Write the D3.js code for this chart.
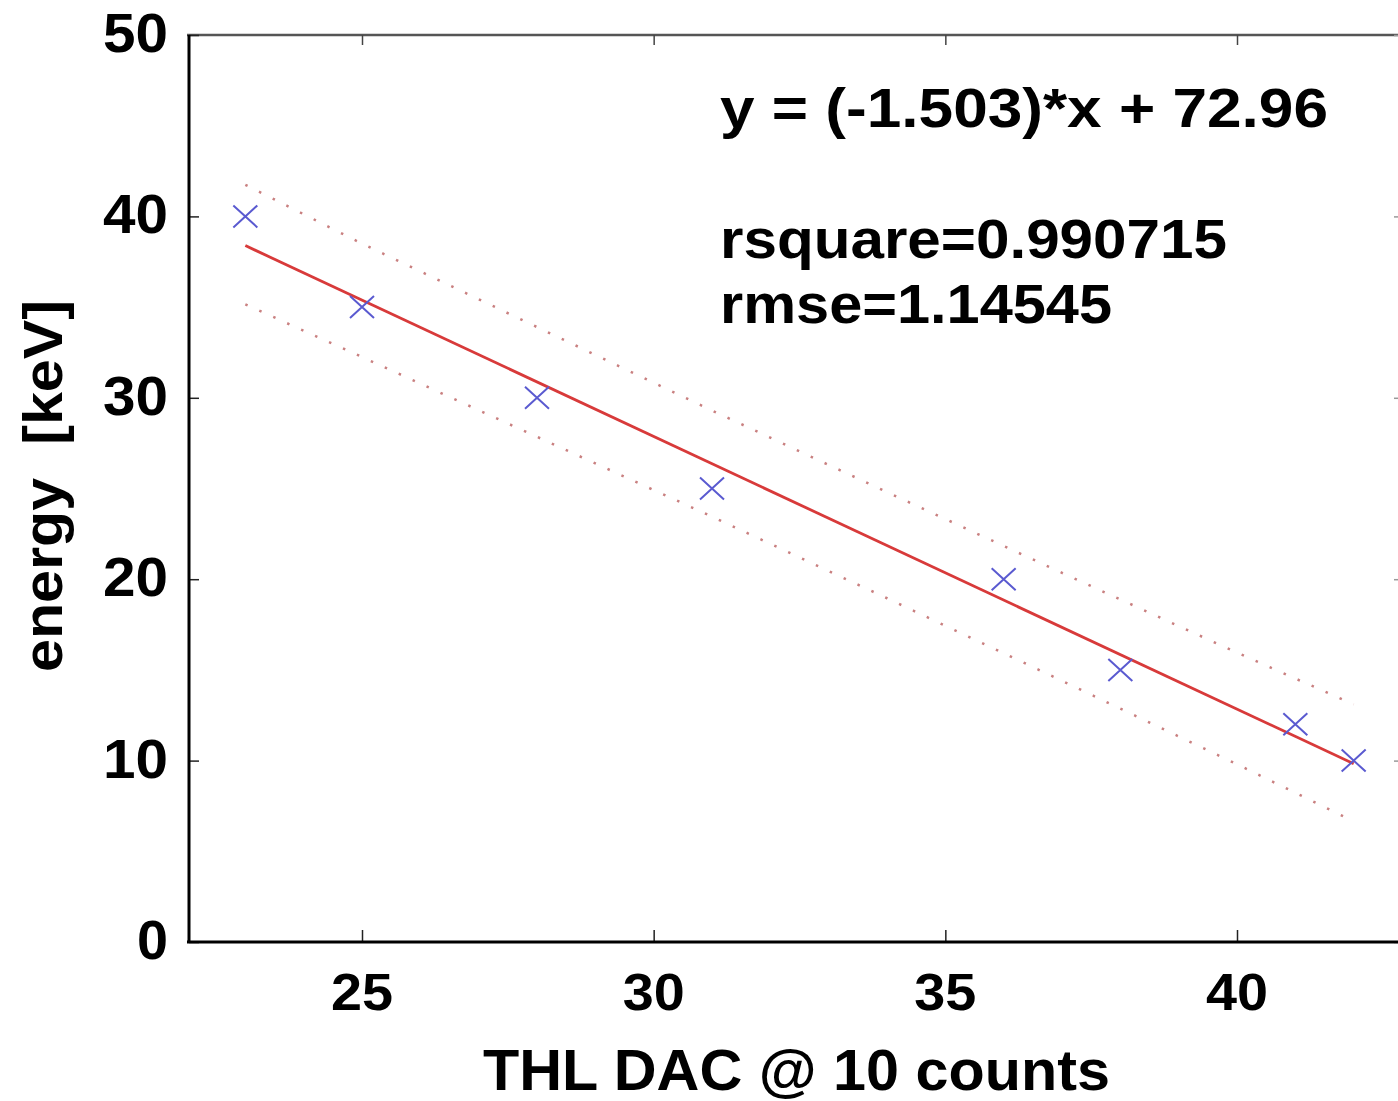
<html>
  <meta charset="utf-8" />
  <script src="https://d3js.org/d3.v7.min.js"></script>
  <style>
    body { margin: 0; background: #fff; }
    text { font-family: "Liberation Sans", Arial, sans-serif; font-weight: bold; fill: #000; white-space: pre; }
  </style>
  <body>
    <div id="chart"></div>

    <script>
      // measured points
      const thl = [23, 25, 28, 31, 36, 38, 41, 42];
      const energy = [40, 35, 30, 25, 20, 15, 12, 10];

      // fitted line y = -1.503*x + 72.96, end points
      const fitX = [23, 42];
      const fitY = [38.39, 9.83];

      // prediction bounds
      const boundX = [23, 25, 28, 31, 34, 37, 40, 42];
      const upperY = [41.74, 38.5, 33.9, 29.3, 24.8, 20.35, 15.95, 13.1];
      const lowerY = [35.15, 32.25, 27.85, 23.45, 18.95, 14.4, 9.8, 6.65];

      const xTicks = [25, 30, 35, 40];
      const yTicks = [0, 10, 20, 30, 40, 50];

      const W = 1398, H = 1101;
      const plotL = 187, plotR = 1412, plotT = 35, plotB = 942;

      const svg = d3.select("#chart").append("svg")
        .attr("width", W)
        .attr("height", H);

      const x = d3.scaleLinear().domain([22, 43]).range([plotL, plotR]);
      const y = d3.scaleLinear().domain([0, 50]).range([plotB, plotT]);

      // frame (top and right are lighter, right one falls off the page)
      svg.append("line").attr("x1", plotL).attr("x2", plotR).attr("y1", plotT).attr("y2", plotT)
        .attr("stroke", "#555").attr("stroke-width", 2.5);
      svg.append("line").attr("x1", plotR).attr("x2", plotR).attr("y1", plotT).attr("y2", plotB)
        .attr("stroke", "#555").attr("stroke-width", 2.5);

      // bottom axis, ticks pointing inward
      svg.append("g")
        .attr("transform", `translate(0,${plotB})`)
        .call(d3.axisTop(x).tickValues(xTicks).tickSize(12).tickFormat(""))
        .call(g => g.select(".domain").remove())
        .call(g => g.selectAll("line").attr("stroke", "#222").attr("stroke-width", 1.5));

      // top axis ticks
      svg.append("g")
        .attr("transform", `translate(0,${plotT})`)
        .call(d3.axisBottom(x).tickValues(xTicks).tickSize(10).tickFormat(""))
        .call(g => g.select(".domain").remove())
        .call(g => g.selectAll("line").attr("stroke", "#444").attr("stroke-width", 1.5));

      // left axis ticks
      svg.append("g")
        .attr("transform", `translate(${plotL + 2},0)`)
        .call(d3.axisRight(y).tickValues(yTicks).tickSize(10).tickFormat(""))
        .call(g => g.select(".domain").remove())
        .call(g => g.selectAll("line").attr("stroke", "#222").attr("stroke-width", 1.5));

      // right axis ticks
      svg.append("g")
        .attr("transform", `translate(${plotR},0)`)
        .call(d3.axisLeft(y).tickValues(yTicks).tickSize(18).tickFormat(""))
        .call(g => g.select(".domain").remove())
        .call(g => g.selectAll("line").attr("stroke", "#999").attr("stroke-width", 1.5));

      svg.append("line").attr("x1", plotL + 2).attr("x2", plotL + 2).attr("y1", plotT).attr("y2", plotB)
        .attr("stroke", "#000").attr("stroke-width", 3);
      svg.append("line").attr("x1", plotL).attr("x2", plotR).attr("y1", plotB).attr("y2", plotB)
        .attr("stroke", "#000").attr("stroke-width", 3);

      // tick labels
      svg.append("g").selectAll("text")
        .data(xTicks)
        .enter()
        .append("text")
        .attr("x", d => x(d))
        .attr("y", 1010)
        .attr("text-anchor", "middle")
        .attr("font-size", 52)
        .attr("textLength", 62)
        .attr("lengthAdjust", "spacingAndGlyphs")
        .text(d => d);

      svg.append("g").selectAll("text")
        .data(yTicks)
        .enter()
        .append("text")
        .attr("x", 168)
        .attr("y", d => y(d) + 17)
        .attr("text-anchor", "end")
        .attr("font-size", 55)
        .attr("textLength", d => (String(d).length == 1 ? 31 : 65))
        .attr("lengthAdjust", "spacingAndGlyphs")
        .text(d => d);

      // prediction bounds
      const line = d3.line().x(d => x(d[0])).y(d => y(d[1]));
      [upperY, lowerY].forEach(arr => {
        svg.append("path")
          .datum(boundX.map((v, i) => [v, arr[i]]))
          .attr("d", line)
          .attr("fill", "none")
          .attr("stroke", "#c98080")
          .attr("stroke-width", 2.5)
          .attr("stroke-dasharray", "2.5,12.8");
      });

      // fit line
      svg.append("path")
        .datum(fitX.map((v, i) => [v, fitY[i]]))
        .attr("d", line)
        .attr("fill", "none")
        .attr("stroke", "#d83a3a")
        .attr("stroke-width", 2.8);

      // data markers
      svg.append("g").selectAll("path")
        .data(thl.map((v, i) => [v, energy[i]]))
        .enter()
        .append("path")
        .attr("transform", d => `translate(${x(d[0])},${y(d[1])})`)
        .attr("d", "M-12,-11L12,11M-12,11L12,-11")
        .attr("stroke", "#5a5ad0")
        .attr("stroke-width", 2)
        .attr("fill", "none");

      // annotations
      const notes = [
        { t: "y = (-1.503)*x + 72.96", yy: 127, len: 608 },
        { t: "rsquare=0.990715", yy: 258, len: 507 },
        { t: "rmse=1.14545", yy: 323, len: 392 }
      ];
      svg.append("g").selectAll("text")
        .data(notes)
        .enter()
        .append("text")
        .attr("x", 720)
        .attr("y", d => d.yy)
        .attr("font-size", 56)
        .attr("textLength", d => d.len)
        .attr("lengthAdjust", "spacingAndGlyphs")
        .text(d => d.t);

      // axis titles
      svg.append("text")
        .attr("x", 483)
        .attr("y", 1090)
        .attr("font-size", 58)
        .attr("textLength", 627)
        .attr("lengthAdjust", "spacingAndGlyphs")
        .text("THL DAC @ 10 counts");

      svg.append("text")
        .attr("transform", "translate(62,486) rotate(-90)")
        .attr("text-anchor", "middle")
        .attr("font-size", 56)
        .attr("textLength", 372)
        .attr("lengthAdjust", "spacingAndGlyphs")
        .text("energy  [keV]");
    </script>
  </body>
</html>
